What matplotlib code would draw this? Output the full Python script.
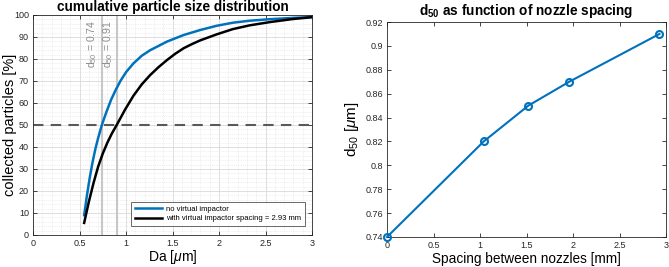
import matplotlib
matplotlib.use("Agg")
import matplotlib.pyplot as plt
from matplotlib.ticker import MultipleLocator, FuncFormatter

plt.rcParams['font.family'] = ['Liberation Sans', 'DejaVu Sans']
plt.rcParams['mathtext.fontset'] = 'custom'
plt.rcParams['mathtext.rm'] = 'Liberation Sans'
plt.rcParams['mathtext.it'] = 'Liberation Sans:italic'
plt.rcParams['mathtext.bf'] = 'Liberation Sans:bold'

# ---- data ----
da_blue = [0.55, 0.58, 0.61, 0.64, 0.67, 0.70, 0.74, 0.79, 0.84, 0.89, 0.94, 1.0, 1.08,
           1.17, 1.26, 1.44, 1.62, 1.80, 1.975, 2.15, 2.33, 2.55, 2.8, 3.0]
pct_blue = [9, 18, 26, 33, 39, 44, 50, 56, 61.5, 66, 70, 74, 78,
            81.5, 84, 87.9, 90.9, 93.2, 95.1, 96.5, 97.4, 98.1, 98.7, 99.1]
da_black = [0.55, 0.60, 0.65, 0.70, 0.75, 0.80, 0.85, 0.90, 0.99, 1.08, 1.17, 1.26,
            1.35, 1.44, 1.53, 1.62, 1.71, 1.80, 1.975, 2.15, 2.33, 2.55, 2.8, 3.0]
pct_black = [5.5, 15, 23.5, 31, 37, 42, 46.3, 50, 57, 63.3, 68.5, 72.7,
             76.3, 79.5, 82.4, 84.9, 86.8, 88.5, 91.2, 93.6, 95.3, 96.8, 98.2, 99]
d50_marks = [0.74, 0.905]
d50_labels = ['0.74', '0.91']

spacing = [0, 1.04, 1.52, 1.96, 2.93]
d50 = [0.74, 0.82, 0.85, 0.87, 0.91]

blue = (0, 0.447, 0.741)
axcol = (0.15, 0.15, 0.15)

def fmt(v, pos):
    return ('%.2f' % v).rstrip('0').rstrip('.')

fig = plt.figure(figsize=(6.69, 2.67), dpi=100)

# ---- left ----
ax1 = fig.add_axes([33/669, 1-235/267, 279/669, 220/267])
ax1.set_xlim(0, 3)
ax1.set_ylim(0, 100)
ax1.xaxis.set_major_locator(MultipleLocator(0.5))
ax1.xaxis.set_minor_locator(MultipleLocator(0.1))
ax1.yaxis.set_major_locator(MultipleLocator(10))
ax1.yaxis.set_minor_locator(MultipleLocator(2))
ax1.xaxis.set_major_formatter(FuncFormatter(fmt))
ax1.grid(True, which='major', color=(0.85, 0.85, 0.85), lw=0.6)
ax1.grid(True, which='minor', color=(0.88, 0.88, 0.88), lw=0.5, ls=':')
ax1.set_axisbelow(True)

for xm, lab in zip(d50_marks, d50_labels):
    ax1.axvline(xm, color=(0.78, 0.78, 0.78), lw=1.5, zorder=1.5)
    ax1.text(xm - 0.025, 97.5, 'd$_{50}$ = ' + lab, rotation=90, ha='right', va='top',
             fontsize=7.5, color=(0.55, 0.55, 0.55))
ax1.axhline(50, color=(0.35, 0.35, 0.35), lw=1.5, ls=(0, (5, 3.5)), zorder=2)

ax1.plot(da_blue, pct_blue, color=blue, lw=1.8, label='no virtual impactor', zorder=3)
ax1.plot(da_black, pct_black, color='black', lw=1.8,
         label='with virtual impactor spacing = 2.93 mm', zorder=3)

leg = ax1.legend(loc='lower right', fontsize=5.5, frameon=True, fancybox=False,
                 edgecolor=(0.15, 0.15, 0.15), handlelength=3.6, handletextpad=0.5,
                 borderpad=0.5, labelspacing=0.3, borderaxespad=0,
                 bbox_to_anchor=(0.975, 0.04))
leg.get_frame().set_linewidth(0.6)

ax1.set_title('cumulative particle size distribution', fontsize=9.8, fontweight='bold', pad=3)
ax1.set_xlabel('Da [$\\mu$m]', fontsize=10, labelpad=0)
ax1.set_ylabel('collected particles [%]', fontsize=10.5)
ax1.yaxis.set_label_coords((17 - 33) / 279, 0.5)

# ---- right ----
ax2 = fig.add_axes([387/669, 1-237/267, 279/669, 215/267])
ax2.plot(spacing, d50, color=blue, lw=1.5, marker='o', ms=5, mfc='none', mew=1.5,
         clip_on=False, zorder=3)
ax2.set_xlim(0, 3)
ax2.set_ylim(0.74, 0.92)
ax2.xaxis.set_major_locator(MultipleLocator(0.5))
ax2.yaxis.set_major_locator(MultipleLocator(0.02))
ax2.xaxis.set_major_formatter(FuncFormatter(fmt))
ax2.yaxis.set_major_formatter(FuncFormatter(fmt))
ax2.set_title('d$_{\\mathbf{50}}$ as function of nozzle spacing', fontsize=9.8,
              fontweight='bold', pad=5)
ax2.set_xlabel('Spacing between nozzles [mm]', fontsize=9.8, labelpad=1)
ax2.set_ylabel('d$_{50}$ [$\\mu$m]', fontsize=11, labelpad=3)

for ax in (ax1, ax2):
    for s in ax.spines.values():
        s.set_color(axcol)
        s.set_linewidth(0.6)
    ax.tick_params(which='both', direction='in', top=True, right=True,
                   labelsize=6.5, colors=axcol, length=3, width=0.6, pad=3)
    ax.tick_params(which='minor', length=0)

fig.savefig('out.png', dpi=100)
